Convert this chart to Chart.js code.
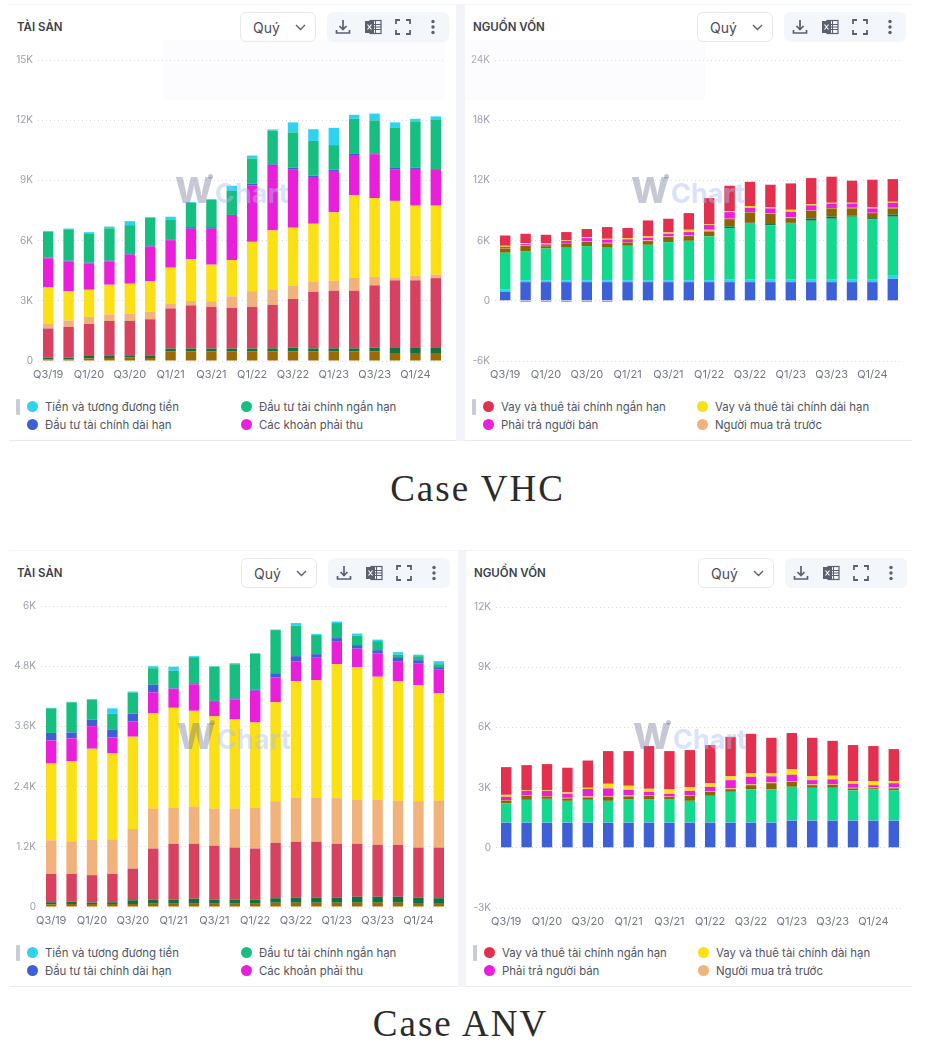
<!DOCTYPE html>
<html>

<head>
  <meta charset="UTF-8">
  <title>Case VHC / Case ANV</title>
  <script src="https://cdn.jsdelivr.net/npm/chart.js"></script>
  <style>
    html, body { margin: 0; padding: 0; background: #fff; }
    body { position: relative; width: 937px; height: 1050px; overflow: hidden; font-family: Inter, sans-serif; }
    .strip { position: absolute; background: #f2f4fa; }
    .card { position: absolute; background: #fff; border-bottom: 1px solid #e6e9f1; border-top: 1px solid #f4f5f9; box-sizing: border-box; }
    .title { position: absolute; font-size: 11.5px; font-weight: 600; color: #3b3f4a; line-height: 14px; }
    .period { position: absolute; width: 76px; height: 30px; box-sizing: border-box; border: 1px solid #e6e8ee; border-radius: 6px; background: #fff; }
    .period span { position: absolute; left: 12px; top: 6px; font-size: 14px; line-height: 17px; color: #4a4e59; }
    .period svg { position: absolute; left: 54px; top: 11px; }
    .tools { position: absolute; width: 122px; height: 30px; background: #f3f6fb; border-radius: 6px; }
    .tools svg { position: absolute; top: 6px; }
    canvas { position: absolute; }
    .pill { position: absolute; width: 4px; height: 16px; background: #c8ccd5; border-radius: 1px; }
    .dot { position: absolute; width: 11px; height: 11px; border-radius: 50%; }
    .name { position: absolute; font-size: 11.4px; line-height: 14px; color: #50545f; white-space: nowrap; }
    .ghost { position: absolute; background: rgba(236, 240, 248, 0.18); z-index: 2; }
    .mark { position: absolute; width: 115px; height: 32px; font-weight: 700; pointer-events: none; z-index: 3; }
    .mark b { position: absolute; left: 0; top: 0; color: rgba(115, 118, 150, 0.4); font-size: 36px; line-height: 32px; font-weight: 800; }
    .mark s { position: absolute; left: 33px; top: 0; width: 5px; height: 5px; border-radius: 50%; background: rgba(115, 118, 150, 0.4); }
    .mark i { position: absolute; left: 40px; top: 8px; color: rgba(170, 190, 240, 0.45); font-style: normal; font-size: 27px; line-height: 24px; }
    .caption { position: absolute; width: 937px; text-align: center; font-family: "Liberation Serif", serif; font-size: 37px; line-height: 42px; letter-spacing: 2px; color: #2b2b2b; }
  </style>
</head>

<body>
  <div class="caption" style="left:9px;top:468px">Case VHC</div>
  <div class="caption" style="left:-8px;top:1003px">Case ANV</div>

  <script>
    const quarters = ['Q3/19', 'Q4/19', 'Q1/20', 'Q2/20', 'Q3/20', 'Q4/20', 'Q1/21', 'Q2/21', 'Q3/21', 'Q4/21',
      'Q1/22', 'Q2/22', 'Q3/22', 'Q4/22', 'Q1/23', 'Q2/23', 'Q3/23', 'Q4/23', 'Q1/24', 'Q2/24'];

    const assetLegend = ['Tiền và tương đương tiền', 'Đầu tư tài chính ngắn hạn', 'Đầu tư tài chính dài hạn', 'Các khoản phải thu'];
    const sourceLegend = ['Vay và thuê tài chính ngắn hạn', 'Vay và thuê tài chính dài hạn', 'Phải trả người bán', 'Người mua trả trước'];

    // VHC tài sản, from the bottom of the stack up
    const vhcA1 = [80, 80, 130, 150, 170, 150, 470, 470, 470, 470, 470, 470, 470, 470, 470, 470, 470, 400, 400, 400];
    const vhcA2 = [90, 90, 120, 130, 80, 130, 150, 150, 150, 150, 150, 160, 200, 160, 160, 160, 200, 250, 250, 250];
    const vhcA3 = [1450, 1530, 1600, 1720, 1750, 1800, 2000, 2150, 2080, 2030, 2080, 2170, 2420, 2820, 2870, 2870, 3100, 3370, 3370, 3480];
    const vhcA4 = [250, 320, 350, 320, 350, 380, 250, 220, 280, 570, 780, 770, 680, 520, 500, 650, 420, 150, 230, 170];
    const vhcA5 = [1800, 1450, 1350, 1480, 1500, 1520, 1780, 2080, 1820, 1810, 2460, 2940, 2870, 2870, 3410, 4110, 3930, 3810, 3490, 3440];
    const vhcA6 = [1450, 1500, 1320, 1170, 1450, 1720, 1370, 1520, 1790, 2200, 2820, 3210, 2920, 2330, 2060, 1960, 2190, 1550, 1830, 1780];
    const vhcA7 = [30, 30, 30, 30, 30, 30, 40, 80, 80, 50, 80, 80, 80, 70, 70, 100, 40, 90, 70, 40];
    const vhcA8 = [1290, 1560, 1460, 1610, 1440, 1400, 970, 1210, 1360, 1200, 1250, 1680, 1750, 1730, 1220, 1750, 1640, 2020, 2270, 2450];
    const vhcA9 = [40, 40, 60, 90, 200, 40, 160, 40, 40, 250, 150, 60, 500, 580, 860, 200, 340, 250, 160, 180];

    // VHC nguồn vốn
    const vhcS1 = [900, 1860, 1860, 1860, 1860, 1860, 1860, 1860, 1860, 1860, 1860, 1860, 1860, 1860, 1860, 1860, 1860, 1860, 1860, 2190];
    const vhcS2 = [260, 200, 200, 200, 200, 200, 200, 200, 200, 200, 200, 300, 300, 300, 300, 300, 300, 300, 300, 300];
    const vhcS3 = [3630, 2890, 3160, 3230, 3390, 3230, 3420, 3520, 3790, 3920, 4360, 5090, 5590, 5350, 5590, 5820, 6020, 6220, 5980, 5890];
    const vhcS4 = [0, -100, -100, -100, -100, -100, 0, 0, 0, 0, 0, 160, 30, 140, 30, 230, 230, 130, 100, 230];
    const vhcS5 = [430, 530, 220, 430, 430, 430, 340, 370, 500, 470, 490, 730, 1030, 1030, 460, 770, 800, 700, 500, 600];
    const vhcS6 = [30, 40, 30, 30, 70, 60, 40, 70, 70, 60, 170, 40, 30, 60, 70, 30, 30, 60, 30, 60];
    const vhcS7 = [130, 130, 150, 230, 300, 300, 270, 260, 260, 340, 470, 660, 430, 470, 560, 500, 430, 400, 440, 500];
    const vhcS8 = [100, 100, 100, 70, 100, 100, 100, 140, 130, 230, 60, 100, 170, 100, 200, 100, 100, 100, 100, 100];
    const vhcS9 = [1030, 930, 860, 800, 800, 1170, 1030, 1590, 1370, 1660, 2630, 2530, 2420, 2260, 2630, 2620, 2600, 2200, 2760, 2260];

    // ANV tài sản
    const anvA1 = [55, 60, 60, 60, 60, 65, 65, 65, 65, 65, 65, 85, 85, 85, 85, 85, 85, 85, 80, 80];
    const anvA2 = [40, 45, 30, 35, 75, 80, 80, 100, 80, 80, 80, 90, 100, 100, 100, 120, 120, 120, 105, 95];
    const anvA3 = [565, 555, 545, 565, 630, 1020, 1115, 1095, 1075, 1040, 1020, 1105, 1115, 1115, 1075, 1055, 1035, 1035, 1000, 1010];
    const anvA4 = [670, 650, 700, 690, 790, 795, 720, 740, 740, 775, 815, 830, 880, 880, 910, 880, 900, 880, 925, 935];
    const anvA5 = [1530, 1600, 1820, 1710, 1840, 1900, 1990, 1910, 1840, 1780, 1700, 1970, 2320, 2340, 2670, 2640, 2450, 2380, 2310, 2140];
    const anvA6 = [460, 450, 450, 320, 300, 420, 380, 530, 290, 400, 630, 500, 400, 460, 460, 370, 460, 400, 440, 470];
    const anvA7 = [150, 120, 130, 160, 160, 150, 10, 20, 20, 20, 20, 80, 100, 60, 60, 70, 70, 80, 60, 50];
    const anvA8 = [490, 600, 400, 310, 420, 330, 350, 520, 680, 680, 720, 860, 610, 380, 300, 190, 180, 50, 80, 60];
    const anvA9 = [10, 10, 10, 110, 20, 40, 80, 20, 10, 20, 10, 10, 50, 20, 30, 40, 30, 50, 30, 60];

    // ANV nguồn vốn
    const anvS1 = [1250, 1250, 1250, 1250, 1250, 1250, 1250, 1250, 1250, 1250, 1250, 1250, 1250, 1250, 1350, 1350, 1350, 1350, 1350, 1350];
    const anvS2 = [20, 20, 20, 20, 20, 20, 20, 20, 20, 20, 20, 20, 20, 20, 20, 20, 20, 20, 20, 20];
    const anvS3 = [940, 1120, 1170, 1070, 1120, 1070, 1160, 1160, 1160, 1070, 1320, 1520, 1640, 1640, 1670, 1620, 1620, 1490, 1550, 1490];
    const anvS4 = [150, 200, 120, 120, 120, 200, 130, 160, 100, 250, 200, 130, 210, 310, 250, 130, 150, 100, 50, 100];
    const anvS5 = [20, 20, 20, 30, 50, 40, 70, 20, 20, 40, 40, 50, 50, 40, 30, 40, 30, 30, 40, 50];
    const anvS6 = [160, 230, 250, 200, 370, 380, 260, 180, 140, 210, 210, 400, 370, 300, 320, 210, 240, 200, 110, 210];
    const anvS7 = [100, 40, 30, 70, 60, 230, 200, 150, 220, 190, 180, 190, 170, 150, 280, 190, 180, 130, 200, 100];
    const anvS8 = [1380, 1240, 1310, 1230, 1360, 1630, 1730, 2130, 1910, 1840, 1900, 1970, 1970, 1770, 1800, 1920, 1740, 1800, 1750, 1600];

    const assetColors = ['#9a6a05', '#12703f', '#d6425f', '#f2b27c', '#fae015', '#e91fda', '#3f5fd6', '#16bf80', '#2dd4f2'];
    const sourceColors = ['#3d60d8', '#2dd4f2', '#14d88e', '#12703f', '#8f6400', '#f2b27c', '#e91fda', '#fae015', '#e2304e'];
    const anvSourceColors = ['#3d60d8', '#2dd4f2', '#14d88e', '#8f6400', '#f2b27c', '#e91fda', '#fae015', '#e2304e'];

    const assetDots = ['#2dd4f2', '#16bf80', '#3f5fd6', '#e91fda'];
    const sourceDots = ['#e2304e', '#fae015', '#e91fda', '#f2b27c'];

    const icons =
      '<svg style="left:7px" width="18" height="18" viewBox="0 0 18 18" fill="none" stroke="#5a6070" stroke-width="1.7"><path d="M9 2v9M5.5 8l3.5 3.5L12.5 8M2.5 12v3h13v-3"/></svg>' +
      '<svg style="left:37px" width="18" height="18" viewBox="0 0 18 18"><rect x="6" y="2.5" width="11" height="13" fill="none" stroke="#5a6070" stroke-width="1.2"/><path d="M11.5 3v12M7 6.5h10M7 9h10M7 11.5h10" stroke="#5a6070" stroke-width="1"/><rect x="1" y="3" width="9" height="12" fill="#5a6070"/><path d="M3.5 6.5l4 5M7.5 6.5l-4 5" stroke="#fff" stroke-width="1.2"/></svg>' +
      '<svg style="left:67px" width="18" height="18" viewBox="0 0 18 18" fill="none" stroke="#5a6070" stroke-width="1.8"><path d="M2 6V2h4M12 2h4v4M16 12v4h-4M6 16H2v-4"/></svg>' +
      '<svg style="left:97px" width="18" height="18" viewBox="0 0 18 18" fill="#5a6070"><circle cx="9" cy="3.5" r="1.7"/><circle cx="9" cy="9" r="1.7"/><circle cx="9" cy="14.5" r="1.7"/></svg>';
    const chevron = '<svg width="11" height="7" viewBox="0 0 11 7" fill="none" stroke="#5a6070" stroke-width="1.4"><path d="M1 1l4.5 4.5L10 1"/></svg>';

    function addEl(cls, style, html) {
      const el = document.createElement('div');
      el.className = cls;
      el.style.cssText = style;
      if (html) el.innerHTML = html;
      document.body.appendChild(el);
      return el;
    }

    function drawPanel(p) {
      addEl('card', `left:${p.x}px;top:${p.y}px;width:${p.w}px;height:${p.h}px`);
      addEl('title', `left:${p.x + 8}px;top:${p.y + 16}px`, p.title);
      addEl('period', `left:${p.x + p.dropX}px;top:${p.y + 8}px`, '<span>Quý</span>' + chevron);
      addEl('tools', `left:${p.x + p.dropX + 87}px;top:${p.y + 8}px`, icons);

      // dots and names of the legend, two columns
      addEl('pill', `left:${p.x + 7}px;top:${p.y + 395}px`);
      p.legend.forEach(function (name, i) {
        const col = i % 2 ? p.x + 232 : p.x + 18;
        const row = p.y + 396 + (i > 1 ? 18 : 0);
        addEl('dot', `left:${col}px;top:${row + 1}px;background:${p.dots[i]}`);
        addEl('name', `left:${col + 18}px;top:${row}px`, name);
      });

      addEl('mark', `left:${p.markX}px;top:${p.markY}px`, '<b>W</b><s></s><i>Chart</i>');

      const canvas = document.createElement('canvas');
      canvas.id = p.id;
      canvas.width = p.yWidth + 409;
      canvas.height = 337;
      canvas.style.left = p.x + 'px';
      canvas.style.top = p.plotTop - 10 + 'px';
      document.body.appendChild(canvas);

      new Chart(canvas.getContext('2d'), {
        type: 'bar',
        data: {
          labels: quarters,
          datasets: p.series.map(function (values, i) {
            return { label: 'seg' + i, data: values, backgroundColor: p.colors[i], stack: 's', borderWidth: 0, barPercentage: 1, categoryPercentage: 0.51 };
          })
        },
        options: {
          responsive: false,
          animation: false,
          layout: { padding: { top: 10, right: 1, left: 0, bottom: 0 } },
          plugins: { legend: { display: false }, tooltip: { enabled: false } },
          scales: {
            x: {
              stacked: true,
              grid: { display: false },
              border: { display: false },
              afterFit: function (s) { s.height = 25; },
              ticks: {
                autoSkip: false, maxRotation: 0, minRotation: 0, padding: -1,
                color: '#737885', font: { family: 'Inter', size: 11 },
                callback: function (v, i) { return i % 2 === 0 ? quarters[i] : ''; }
              }
            },
            y: {
              stacked: true,
              min: p.min, max: p.max,
              afterFit: function (s) { s.width = p.yWidth; },
              grid: { color: '#d6d9e1', drawTicks: false },
              border: { display: false, dash: [1, 3] },
              ticks: {
                stepSize: p.step, padding: 5,
                color: '#9a9ea9', font: { family: 'Inter', size: 10 },
                callback: function (v) { return v === 0 ? '0' : v / 1000 + 'K'; }
              }
            }
          }
        }
      });
    }

    const panels = [
      { id: 'vhcAssets', title: 'TÀI SẢN', x: 9, y: 4, w: 447, h: 437, dropX: 231, yWidth: 29, plotTop: 59, min: 0, max: 15000, step: 3000, markX: 175, markY: 174,
        series: [vhcA1, vhcA2, vhcA3, vhcA4, vhcA5, vhcA6, vhcA7, vhcA8, vhcA9], colors: assetColors, legend: assetLegend, dots: assetDots },
      { id: 'vhcSources', title: 'NGUỒN VỐN', x: 465, y: 4, w: 447, h: 437, dropX: 232, yWidth: 30, plotTop: 59, min: -6000, max: 24000, step: 6000, markX: 631, markY: 174,
        series: [vhcS1, vhcS2, vhcS3, vhcS4, vhcS5, vhcS6, vhcS7, vhcS8, vhcS9], colors: sourceColors, legend: sourceLegend, dots: sourceDots },
      { id: 'anvAssets', title: 'TÀI SẢN', x: 9, y: 550, w: 449, h: 437, dropX: 232, yWidth: 32, plotTop: 605, min: 0, max: 6000, step: 1200, markX: 177, markY: 720,
        series: [anvA1, anvA2, anvA3, anvA4, anvA5, anvA6, anvA7, anvA8, anvA9], colors: assetColors, legend: assetLegend, dots: assetDots },
      { id: 'anvSources', title: 'NGUỒN VỐN', x: 466, y: 550, w: 446, h: 437, dropX: 232, yWidth: 30, plotTop: 606, min: -3000, max: 12000, step: 3000, markX: 633, markY: 720,
        series: [anvS1, anvS2, anvS3, anvS4, anvS5, anvS6, anvS7, anvS8], colors: anvSourceColors, legend: sourceLegend, dots: sourceDots }
    ];

    addEl('strip', 'left:456px;top:4px;width:9px;height:437px');
    addEl('strip', 'left:458px;top:550px;width:8px;height:437px');

    panels.forEach(drawPanel);

    // faint banner left over behind the two top charts
    addEl('ghost', 'left:163px;top:40px;width:282px;height:60px');
    addEl('ghost', 'left:465px;top:40px;width:240px;height:60px');
  </script>
</body>

</html>
